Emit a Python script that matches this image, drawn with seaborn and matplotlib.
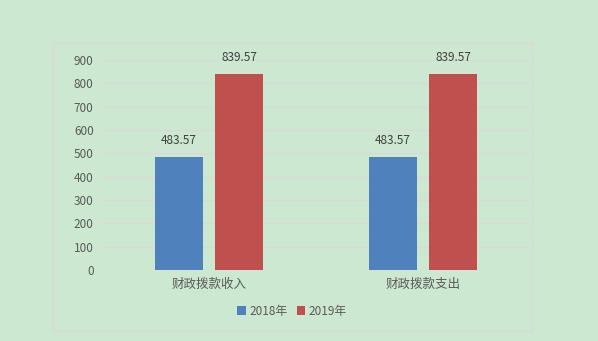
import matplotlib
matplotlib.use("Agg")
import matplotlib.pyplot as plt
import seaborn as sns
import pandas as pd
from matplotlib.patches import Rectangle

categories = ["财政拨款收入", "财政拨款支出"]
series_names = ["2018年", "2019年"]
values_2018 = [483.57, 483.57]
values_2019 = [839.57, 839.57]
yticks = [0, 100, 200, 300, 400, 500, 600, 700, 800, 900]

df = pd.DataFrame({
    "cat": categories * 2,
    "series": [series_names[0]] * 2 + [series_names[1]] * 2,
    "val": values_2018 + values_2019,
})

sns.set_theme(style="white")
plt.rcParams['font.family'] = ['Noto Sans CJK SC', 'DejaVu Sans']

bg = "#CDE8D0"
W, H = 598, 341
fig = plt.figure(figsize=(W / 100, H / 100), dpi=100, facecolor=bg)
ax = fig.add_axes([102 / W, 1 - 270 / H, (530 - 102) / W, (270 - 60) / H])
ax.set_facecolor(bg)

palette = {"2018年": "#4F81BD", "2019年": "#C0504D"}
sns.barplot(data=df, x="cat", y="val", hue="series", hue_order=series_names,
            order=categories, palette=palette, width=0.56, gap=0.2,
            saturation=1, linewidth=0, ax=ax, legend=True)

ax.set_ylim(0, 900)
ax.set_xlim(-0.5, 1.5)
ax.set_yticks(yticks)
ax.set_yticklabels([str(t) for t in yticks])
ax.yaxis.grid(True, color="#D9D9D9", linewidth=1)
ax.set_axisbelow(True)
for s in ax.spines.values():
    s.set_visible(False)
ax.tick_params(axis="both", length=0, colors="#595959", labelsize=8.5)
ax.tick_params(axis="y", pad=6)
ax.tick_params(axis="x", pad=6, labelsize=9)
ax.set_xlabel("")
ax.set_ylabel("")

for cont in ax.containers:
    ax.bar_label(cont, labels=[f"{v:.2f}" for v in cont.datavalues],
                 padding=7, fontsize=8.5, color="#404040")

leg = ax.legend(loc="center", bbox_to_anchor=(292 / W, 1 - 311 / H),
                bbox_transform=fig.transFigure, ncol=2, frameon=False,
                fontsize=8.5, handlelength=0.7, handleheight=0.7,
                handletextpad=0.3, columnspacing=0.8)
for t in leg.get_texts():
    t.set_color("#595959")

fig.patches.append(Rectangle((53 / W, 1 - 331 / H), (532 - 53) / W, (331 - 43) / H,
                             transform=fig.transFigure, fill=False,
                             edgecolor="#D9D9D9", linewidth=1))

fig.savefig("out.png", dpi=100, facecolor=bg)
